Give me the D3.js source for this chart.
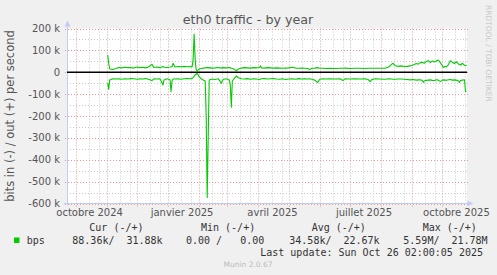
<!DOCTYPE html>
<html lang="fr">
<head>
<meta charset="UTF-8">
<title>eth0 traffic - by year</title>
<style>
  body { margin: 0; background: #f0f0f0; }
  svg { display: block; font-family: "DejaVu Sans", sans-serif; }
  .mono { font-family: "DejaVu Sans Mono", monospace; font-size: 10px; fill: #333; white-space: pre; }
</style>
</head>
<body>
<svg id="chart" width="497" height="275"></svg>
<script src="https://d3js.org/d3.v7.min.js"></script>
<script>
// one point per sampled day, values in kbit/s
const days = [
  "2024-11-02","2024-11-03","2024-11-04","2024-11-07","2024-11-10","2024-11-13","2024-11-16","2024-11-19",
  "2024-11-22","2024-11-25","2024-11-28","2024-12-01","2024-12-04","2024-12-07","2024-12-10","2024-12-13",
  "2024-12-16","2024-12-18","2024-12-21","2024-12-24","2024-12-27","2024-12-28","2024-12-31","2025-01-03",
  "2025-01-04","2025-01-05","2025-01-06","2025-01-08","2025-01-11","2025-01-14","2025-01-17","2025-01-20",
  "2025-01-23","2025-01-25","2025-01-26","2025-01-27","2025-01-28","2025-01-29","2025-01-30","2025-02-01",
  "2025-02-03","2025-02-05","2025-02-07","2025-02-08","2025-02-09","2025-02-10","2025-02-11","2025-02-14",
  "2025-02-17","2025-02-20","2025-02-22","2025-02-23","2025-02-25","2025-02-28","2025-03-03","2025-03-04",
  "2025-03-05","2025-03-06","2025-03-08","2025-03-09","2025-03-10","2025-03-12","2025-03-15","2025-03-18",
  "2025-03-21","2025-03-24","2025-03-27","2025-03-30","2025-04-02","2025-04-03","2025-04-04","2025-04-07",
  "2025-04-10","2025-04-13","2025-04-16","2025-04-19","2025-04-22","2025-04-25","2025-04-28","2025-05-01",
  "2025-05-05","2025-05-08","2025-05-11","2025-05-14","2025-05-17","2025-05-20","2025-05-22","2025-05-24",
  "2025-05-27","2025-05-30","2025-06-01","2025-06-04","2025-06-07","2025-06-11","2025-06-16","2025-06-21",
  "2025-06-24","2025-06-26","2025-07-01","2025-07-06","2025-07-11","2025-07-16","2025-07-19","2025-07-21",
  "2025-07-23","2025-07-26","2025-07-31","2025-08-05","2025-08-09","2025-08-11","2025-08-13","2025-08-15",
  "2025-08-18","2025-08-21","2025-08-24","2025-08-27","2025-08-30","2025-09-02","2025-09-05","2025-09-07",
  "2025-09-09","2025-09-11","2025-09-12","2025-09-13","2025-09-15","2025-09-17","2025-09-19","2025-09-21",
  "2025-09-23","2025-09-25","2025-09-27","2025-09-29","2025-10-01","2025-10-02","2025-10-04","2025-10-05",
  "2025-10-07","2025-10-09","2025-10-11","2025-10-13","2025-10-15","2025-10-17","2025-10-18","2025-10-19",
  "2025-10-21","2025-10-23","2025-10-24","2025-10-25"
];
const outK = [
  79, 40, 15, 13, 17, 22, 20, 23, 21, 22, 19, 24, 21, 23, 20, 25,
  36, 22, 24, 21, 26, 23, 22, 24, 25, 25, 41, 24, 26, 25, 27, 25,
  26, 24, 60, 175, 60, 12, 6, 14, 17, 19, 20, 21, 21, 20, 21, 19,
  20, 22, 19, 20, 21, 20, 22, 20, 18, 17, 14, 10, 7, 15, 19, 21,
  20, 19, 21, 20, 22, 29, 20, 19, 21, 20, 19, 20, 19, 18, 19, 20,
  23, 19, 18, 19, 18, 17, 12, 18, 19, 21, 18, 18, 17, 18, 17, 18,
  18, 19, 17, 18, 18, 17, 18, 18, 18, 18, 18, 18, 25, 35, 41, 30,
  27, 29, 26, 27, 29, 33, 40, 37, 44, 45, 43, 41, 50, 53, 44, 51,
  47, 52, 56, 44, 30, 22, 27, 24, 35, 53, 46, 40, 48, 38, 36, 33,
  41, 32, 30, 32
];
const inK = [
  50, 78, 35, 30, 31, 30, 32, 30, 31, 29, 30, 32, 30, 31, 29, 33,
  38, 30, 31, 30, 58, 35, 30, 34, 89, 40, 31, 31, 30, 32, 30, 29,
  30, 28, 25, 18, 12, 8, 5, 20, 30, 35, 40, 200, 573, 300, 35, 31,
  33, 30, 42, 50, 32, 30, 35, 60, 160, 40, 28, 22, 17, 25, 30, 31,
  29, 32, 30, 31, 33, 31, 30, 29, 31, 30, 29, 31, 32, 30, 33, 31,
  30, 32, 29, 31, 30, 31, 30, 32, 36, 47, 32, 30, 31, 30, 31, 30,
  38, 30, 31, 30, 31, 30, 33, 43, 33, 30, 31, 32, 30, 31, 32, 32,
  31, 31, 32, 33, 35, 33, 36, 35, 34, 38, 46, 40, 37, 36, 35, 37,
  38, 34, 36, 43, 36, 35, 36, 37, 34, 33, 36, 35, 36, 40, 47, 38,
  36, 34, 88, 88
];

const yTickValues = [200000, 100000, 0, -100000, -200000, -300000, -400000, -500000, -600000];
const quarterLabels = ["octobre 2024", "janvier 2025", "avril 2025", "juillet 2025", "octobre 2025"];
const quarterLabelDays = ["2024-10-15", "2025-01-15", "2025-04-15", "2025-07-15", "2025-10-15"];
const legendHeads = ["Cur (-/+)", "Min (-/+)", "Avg (-/+)", "Max (-/+)"];
const legendValues = ["88.36k/  31.88k", "0.00 /   0.00", "34.58k/  22.67k", "5.59M/  21.78M"];
const seriesName = "bps";
const lastUpdate = "Last update: Sun Oct 26 02:00:05 2025";

const parseDay = d3.utcParse("%Y-%m-%d");
const svg = d3.select("#chart");

const plot = { left: 67, right: 467, top: 28.5, bottom: 203.5 };

const x = d3.scaleUtc()
  .domain([new Date(Date.UTC(2024, 8, 22, 12)), new Date(Date.UTC(2025, 9, 25, 12))])
  .range([plot.left, plot.right]);

const y = d3.scaleLinear()
  .domain([-600000, 200000])
  .range([plot.bottom, plot.top]);

svg.append("rect")
  .attr("width", 497).attr("height", 275)
  .attr("fill", "#f0f0f0");

svg.append("rect")
  .attr("x", plot.left).attr("y", plot.top)
  .attr("width", plot.right - plot.left).attr("height", plot.bottom - plot.top)
  .attr("fill", "#ffffff");

// grid: minor every 50k / mid-month, major every 100k / month start
const minorY = y.ticks(16).filter(v => v % 100000 !== 0);
const majorY = y.ticks(8);
const months = d3.utcMonth.range(x.domain()[0], x.domain()[1]);
const minorX = months.flatMap(m => [d3.utcDay.offset(m, 13), d3.utcDay.offset(m, 23)])
  .filter(d => d > x.domain()[0] && d < x.domain()[1]);

const grid = svg.append("g").attr("fill", "none").attr("stroke-dasharray", "1,2");

grid.selectAll(".minor-y").data(minorY).enter().append("line")
  .attr("x1", plot.left).attr("x2", plot.right)
  .attr("y1", d => Math.round(y(d)) + 0.5).attr("y2", d => Math.round(y(d)) + 0.5)
  .attr("stroke", "#c8c8c8");

grid.selectAll(".minor-x").data(minorX).enter().append("line")
  .attr("x1", d => Math.round(x(d)) + 0.5).attr("x2", d => Math.round(x(d)) + 0.5)
  .attr("y1", plot.top).attr("y2", plot.bottom + 2)
  .attr("stroke", "#c8c8c8");

grid.selectAll(".major-y").data(majorY).enter().append("line")
  .attr("x1", plot.left - 2).attr("x2", plot.right + 1)
  .attr("y1", d => Math.round(y(d)) + 0.5).attr("y2", d => Math.round(y(d)) + 0.5)
  .attr("stroke", "#e29a9a");

grid.selectAll(".major-x").data(months).enter().append("line")
  .attr("x1", d => Math.round(x(d)) + 0.5).attr("x2", d => Math.round(x(d)) + 0.5)
  .attr("y1", plot.top).attr("y2", plot.bottom + 3)
  .attr("stroke", "#e29a9a");

// axes with arrows
const axisColor = "#c4ccf4";
svg.append("line")
  .attr("x1", plot.left + 0.5).attr("x2", plot.left + 0.5)
  .attr("y1", plot.bottom + 2).attr("y2", 24)
  .attr("stroke", axisColor);
svg.append("path")
  .attr("d", `M${plot.left + 0.5},20.5L${plot.left - 2.5},26.5L${plot.left + 3.5},26.5Z`)
  .attr("fill", axisColor);
svg.append("line")
  .attr("x1", plot.left - 3).attr("x2", 470)
  .attr("y1", plot.bottom).attr("y2", plot.bottom)
  .attr("stroke", axisColor);
svg.append("path")
  .attr("d", `M473.5,${plot.bottom}L467.5,${plot.bottom - 3}L467.5,${plot.bottom + 3}Z`)
  .attr("fill", axisColor);

// tick labels
svg.append("g").selectAll("text").data(yTickValues).enter().append("text")
  .attr("x", 60).attr("y", d => y(d) + 3.5)
  .attr("text-anchor", "end")
  .attr("font-size", "10px").attr("fill", "#555")
  .text(d => d === 0 ? "0" : (d / 1000) + " k");

svg.append("g").selectAll("text").data(quarterLabels).enter().append("text")
  .attr("x", (d, i) => x(parseDay(quarterLabelDays[i])))
  .attr("y", 216)
  .attr("text-anchor", "middle")
  .attr("font-size", "10px").attr("fill", "#555")
  .text(d => d);

// series
const outPts = days.map((d, i) => ({ date: parseDay(d), v: outK[i] * 1000 }));
const inPts = days.map((d, i) => ({ date: parseDay(d), v: -inK[i] * 1000 }));
const line = d3.line().x(d => x(d.date)).y(d => y(d.v));

[outPts, inPts].forEach(pts => {
  svg.append("path")
    .datum(pts)
    .attr("fill", "none")
    .attr("stroke", "#00cc00")
    .attr("stroke-width", 1.1)
    .attr("stroke-linejoin", "round")
    .attr("d", line);
});

svg.append("line")
  .attr("x1", plot.left).attr("x2", plot.right)
  .attr("y1", y(0)).attr("y2", y(0))
  .attr("stroke", "#000").attr("stroke-width", 1.5);

// titles
svg.append("text")
  .attr("x", 248).attr("y", 24)
  .attr("text-anchor", "middle")
  .attr("font-size", "12.7px").attr("fill", "#555")
  .text("eth0 traffic - by year");

svg.append("text")
  .attr("transform", `translate(14,${(plot.top + plot.bottom) / 2}) rotate(-90)`)
  .attr("text-anchor", "middle")
  .attr("font-size", "11.5px").attr("fill", "#555")
  .text("bits in (-) / out (+) per second");

svg.append("text")
  .attr("transform", "translate(486,5) rotate(90)")
  .attr("font-size", "7.5px").attr("fill", "#c8c8c8")
  .text("RRDTOOL / TOBI OETIKER");

// legend
const legend = svg.append("g");
legend.selectAll(".head").data(legendHeads).enter().append("text")
  .attr("class", "mono")
  .attr("x", (d, i) => [89.3, 201, 311.7, 422.7][i])
  .attr("y", 231)
  .text(d => d);

legend.append("rect")
  .attr("x", 14).attr("y", 237.5).attr("width", 5.5).attr("height", 5.5)
  .attr("fill", "#00cc00");
legend.append("text").attr("class", "mono").attr("x", 26.7).attr("y", 243.5).text(seriesName);

legend.selectAll(".val").data(legendValues).enter().append("text")
  .attr("class", "mono")
  .attr("x", (d, i) => [72.3, 186, 289.3, 403.3][i])
  .attr("y", 243.5)
  .text(d => d);

legend.append("text").attr("class", "mono")
  .attr("x", 483).attr("y", 255.5).attr("text-anchor", "end")
  .text(lastUpdate);

svg.append("text")
  .attr("x", 248).attr("y", 267)
  .attr("text-anchor", "middle")
  .attr("font-size", "7.5px").attr("fill", "#bbb")
  .text("Munin 2.0.67");
</script>
</body>
</html>
